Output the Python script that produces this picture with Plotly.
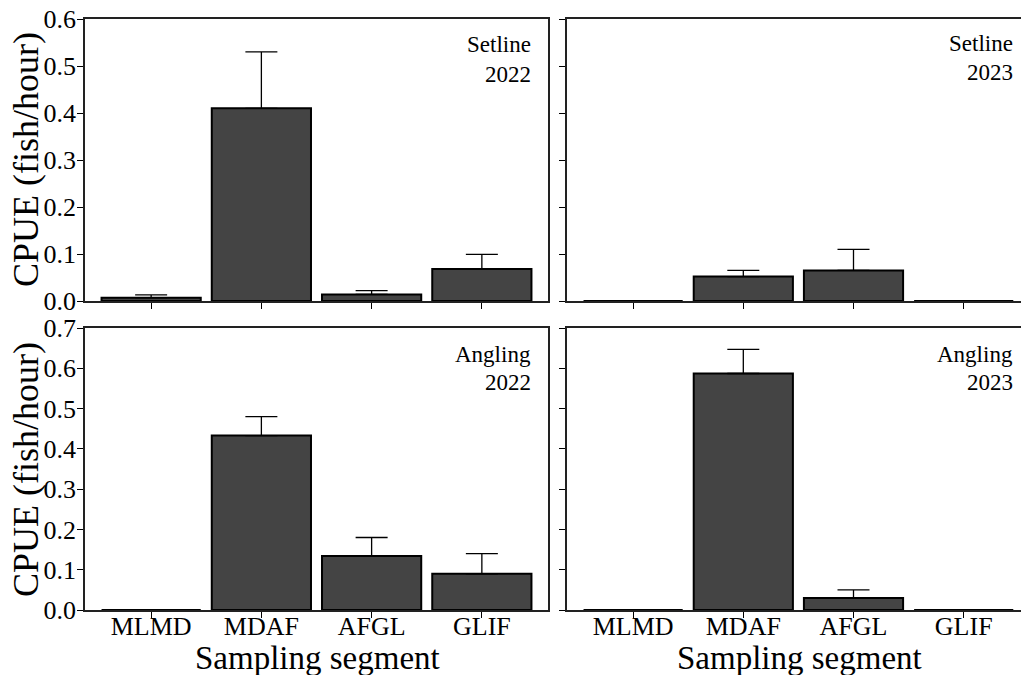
import plotly.graph_objects as go

categories = ["MLMD", "MDAF", "AFGL", "GLIF"]

setline_2022 = [0.007, 0.410, 0.014, 0.068]
setline_2022_err = [0.006, 0.120, 0.008, 0.031]
setline_2023 = [0.0, 0.052, 0.065, 0.0]
setline_2023_err = [0.0, 0.013, 0.045, 0.0]
angling_2022 = [0.0, 0.433, 0.134, 0.090]
angling_2022_err = [0.0, 0.047, 0.046, 0.050]
angling_2023 = [0.0, 0.587, 0.030, 0.0]
angling_2023_err = [0.0, 0.060, 0.020, 0.0]

panel_labels = [("Setline", "2022"), ("Setline", "2023"), ("Angling", "2022"), ("Angling", "2023")]
top_ticks = [0.0, 0.1, 0.2, 0.3, 0.4, 0.5, 0.6]
bottom_ticks = [0.0, 0.1, 0.2, 0.3, 0.4, 0.5, 0.6, 0.7]

FONT = "Liberation Serif"
W, H = 1021, 675
BAR = "#444444"

fig = go.Figure()

panels = [
    (setline_2022, setline_2022_err, "x", "y"),
    (setline_2023, setline_2023_err, "x2", "y2"),
    (angling_2022, angling_2022_err, "x3", "y3"),
    (angling_2023, angling_2023_err, "x4", "y4"),
]
xs = list(range(len(categories)))
for vals, errs, xa, ya in panels:
    fig.add_trace(go.Bar(
        x=xs, y=vals, width=0.9, xaxis=xa, yaxis=ya,
        marker=dict(color=BAR, line=dict(color="black", width=2)),
        error_y=dict(type="data", symmetric=False, array=errs,
                     arrayminus=[0] * len(errs), color="black",
                     thickness=1.3, width=16),
        showlegend=False,
    ))

def px_x(p):
    return p / W

def px_y(p):
    return 1 - p / H

left_dom = [px_x(85), px_x(548)]
right_dom = [px_x(567), 1.0]
top_dom = [px_y(301), px_y(19)]
bot_dom = [px_y(610), px_y(328)]

common_x = dict(tickmode="array", tickvals=xs, ticks="outside", ticklen=6,
                tickwidth=1.3, tickcolor="black", showline=True, linecolor="#222222",
                linewidth=1.6, showgrid=False, zeroline=False, automargin=False,
                ticklabelstandoff=-14,
                tickfont=dict(family=FONT, size=26, color="black"))
common_y = dict(ticks="outside", ticklen=6, tickwidth=1.3, tickcolor="black",
                showline=True, linecolor="#222222", linewidth=1.6, showgrid=False,
                zeroline=False, tickformat=".1f", automargin=False,
                ticklabeloverflow="allow", ticklabelstandoff=-4,
                tickfont=dict(family=FONT, size=26, color="black"))

layout = dict(
    width=W, height=H, margin=dict(l=0, r=0, t=0, b=0),
    paper_bgcolor="white", plot_bgcolor="white",
    font=dict(family=FONT, color="black"),
    xaxis=dict(common_x, domain=left_dom, range=[-0.6, 3.6], anchor="y",
               ticktext=[""] * 4, mirror=True),
    yaxis=dict(common_y, domain=top_dom, range=[0, 0.6], anchor="x",
               tickvals=top_ticks, mirror=True),
    xaxis2=dict(common_x, domain=right_dom, range=[-0.6, 3.52], anchor="y2",
                ticktext=[""] * 4, mirror=True),
    yaxis2=dict(common_y, domain=top_dom, range=[0, 0.6], anchor="x2",
                tickvals=top_ticks, showticklabels=False),
    xaxis3=dict(common_x, domain=left_dom, range=[-0.6, 3.6], anchor="y3",
                ticktext=categories, mirror=True),
    yaxis3=dict(common_y, domain=bot_dom, range=[0, 0.7], anchor="x3",
                tickvals=bottom_ticks, mirror=True),
    xaxis4=dict(common_x, domain=right_dom, range=[-0.6, 3.52], anchor="y4",
                ticktext=categories, mirror=True),
    yaxis4=dict(common_y, domain=bot_dom, range=[0, 0.7], anchor="x4",
                tickvals=bottom_ticks, showticklabels=False),
)
fig.update_layout(**layout)

annotations = []
label_pos = [(533, 45, 74), (1015, 43, 72), (533, 354, 383), (1015, 354, 383)]
for (name, year), (xr, y1, y2) in zip(panel_labels, label_pos):
    for txt, yy in ((name, y1), (year, y2)):
        annotations.append(dict(text=txt, x=px_x(xr), y=px_y(yy), xref="paper",
                                yref="paper", xanchor="right", yanchor="middle",
                                showarrow=False,
                                font=dict(family=FONT, size=23, color="black")))

for yc in (160, 470):
    annotations.append(dict(text="CPUE (fish/hour)", x=px_x(26), y=px_y(yc),
                            xref="paper", yref="paper", textangle=-90,
                            xanchor="center", yanchor="middle", showarrow=False,
                            font=dict(family=FONT, size=36, color="black")))
for xc in (317, 799):
    annotations.append(dict(text="Sampling segment", x=px_x(xc), y=px_y(658),
                            xref="paper", yref="paper", xanchor="center",
                            yanchor="middle", showarrow=False,
                            font=dict(family=FONT, size=33, color="black")))
fig.update_layout(annotations=annotations)

fig.write_html("out.html", config={"displayModeBar": False},
               post_script="document.body.style.margin='0';document.body.style.overflow='hidden';")
